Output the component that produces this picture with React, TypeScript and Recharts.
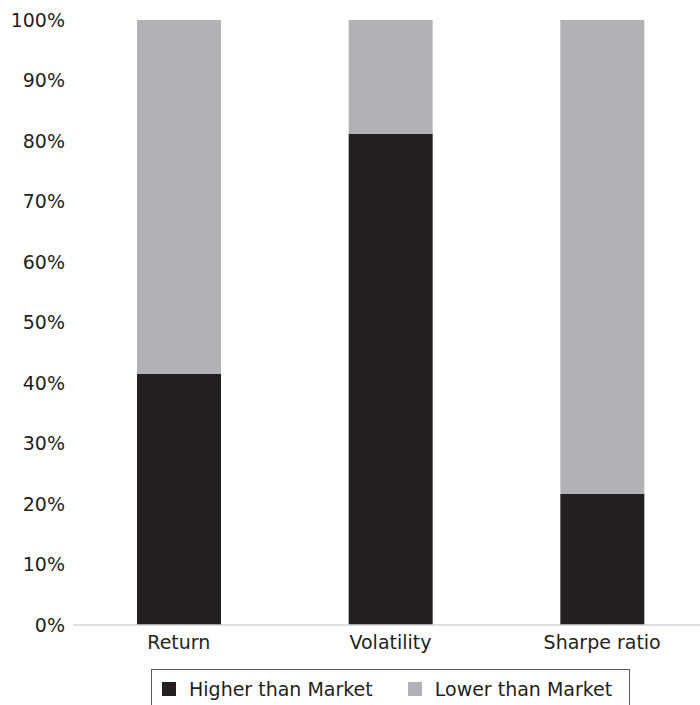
import React from "react";
import { BarChart, Bar, XAxis, YAxis, Legend } from "recharts";

// Share of funds above / below the market on each measure
const categories = ["Return", "Volatility", "Sharpe ratio"];
const higherThanMarket = [41.5, 81.2, 21.7];
const lowerThanMarket = [58.5, 18.8, 78.3];
const yTicks = [0, 10, 20, 30, 40, 50, 60, 70, 80, 90, 100];

const DARK = "#231f20";
const GREY = "#b1b2b6";
const FONT = "'DejaVu Sans', sans-serif";

const data = categories.map((name, i) => ({
  name,
  higher: higherThanMarket[i],
  lower: lowerThanMarket[i],
}));

const legendItems = [
  { label: "Higher than Market", color: DARK },
  { label: "Lower than Market", color: GREY },
];

function LegendBox() {
  return (
    <div
      style={{
        boxSizing: "border-box",
        height: 40,
        border: "1.5px solid #5a5a5a",
        display: "flex",
        alignItems: "center",
        paddingLeft: 10,
        fontFamily: FONT,
        fontSize: 19,
        color: DARK,
      }}
    >
      {legendItems.map((item, i) => (
        <div
          key={item.label}
          style={{ display: "flex", alignItems: "center", marginLeft: i === 0 ? 0 : 35 }}
        >
          <span
            style={{ width: 14, height: 14, background: item.color, display: "inline-block", marginRight: 13 }}
          />
          <span style={{ whiteSpace: "nowrap" }}>{item.label}</span>
        </div>
      ))}
    </div>
  );
}

export default function App() {
  return (
    <div
      style={{
        position: "absolute",
        left: 0,
        top: 0,
        width: 700,
        height: 705,
        overflow: "hidden",
        background: "#fff",
      }}
    >
      <BarChart
        width={708}
        height={720}
        data={data}
        margin={{ top: 20, right: 0, bottom: 11, left: 0 }}
        barSize={84}
      >
        <YAxis
          width={73}
          domain={[0, 100]}
          ticks={yTicks}
          tickFormatter={(v: number) => `${v}%`}
          axisLine={false}
          tickLine={false}
          interval={0}
          tick={{ fill: DARK, fontSize: 19, fontFamily: FONT }}
        />
        <XAxis
          dataKey="name"
          height={44}
          tickLine={false}
          tickMargin={5}
          axisLine={{ stroke: "#d4d4d4", strokeWidth: 1.5 }}
          tick={{ fill: DARK, fontSize: 19, fontFamily: FONT }}
        />
        <Legend
          verticalAlign="bottom"
          content={() => <LegendBox />}
          wrapperStyle={{ left: 151, width: 479, height: 40 }}
        />
        <Bar dataKey="higher" stackId="s" fill={DARK} isAnimationActive={false} />
        <Bar dataKey="lower" stackId="s" fill={GREY} isAnimationActive={false} />
      </BarChart>
    </div>
  );
}
